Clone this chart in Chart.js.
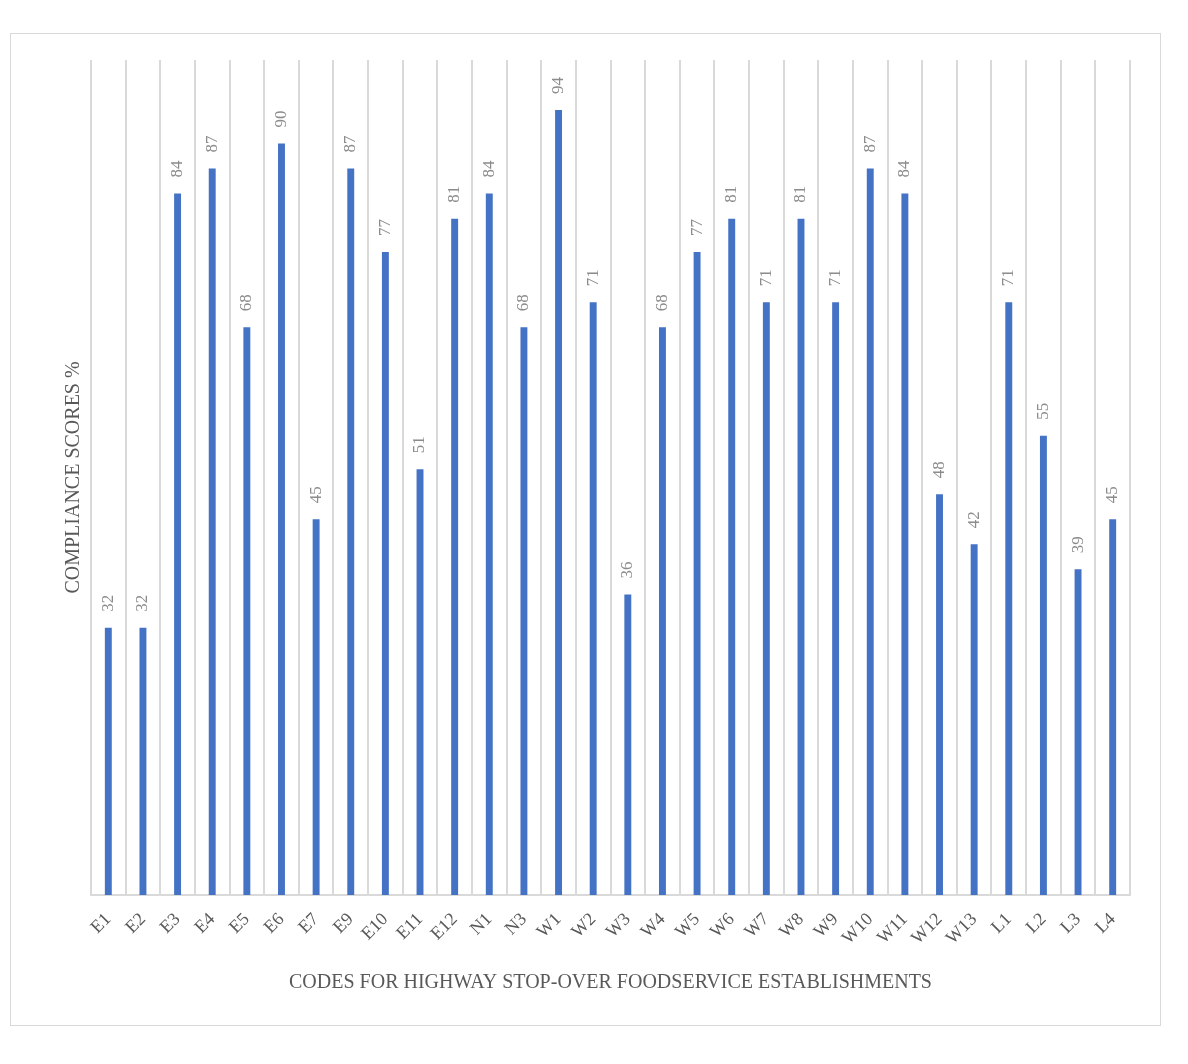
<!DOCTYPE html>
<html>
<head>
<meta charset="utf-8">
<script src="https://cdn.jsdelivr.net/npm/chart.js@4"></script>
<style>
  body { margin: 0; background: #fff; }
  #box { position: absolute; left: 10px; top: 33px; width: 1151px; height: 993px; border: 1px solid #d9d9d9; box-sizing: border-box; }
  #wrap { position: absolute; left: 0; top: 0; right: 0; bottom: 0; }
</style>
</head>
<body>
<div id="box"><div id="wrap"><canvas id="scoreChart"></canvas></div></div>
<script>
    const codes = ['E1', 'E2', 'E3', 'E4', 'E5', 'E6', 'E7', 'E9', 'E10', 'E11', 'E12', 'N1', 'N3',
        'W1', 'W2', 'W3', 'W4', 'W5', 'W6', 'W7', 'W8', 'W9', 'W10', 'W11', 'W12', 'W13', 'L1', 'L2', 'L3', 'L4'];
    const scores = [32, 32, 84, 87, 68, 90, 45, 87, 77, 51, 81, 84, 68, 94, 71, 36, 68, 77, 81, 71, 81, 71, 87, 84, 48, 42, 71, 55, 39, 45];

    const serif = "'Liberation Serif', 'DejaVu Serif', serif";

    // value labels drawn upright above each bar
    const barLabels = {
        id: 'barLabels',
        afterDatasetsDraw(chart) {
            const ctx = chart.ctx;
            const meta = chart.getDatasetMeta(0);
            ctx.save();
            ctx.fillStyle = '#8c8c8c';
            ctx.font = '17px ' + serif;
            ctx.textAlign = 'left';
            ctx.textBaseline = 'middle';
            meta.data.forEach((bar, i) => {
                ctx.save();
                ctx.translate(bar.x, bar.y - 16);
                ctx.rotate(-Math.PI / 2);
                ctx.fillText(String(scores[i]), 0, 0);
                ctx.restore();
            });
            ctx.restore();
        }
    };

    const ctx = document.getElementById('scoreChart').getContext('2d');
    new Chart(ctx, {
        type: 'bar',
        data: {
            labels: codes,
            datasets: [{
                data: scores,
                backgroundColor: '#4472c4',
                barPercentage: 0.2,
                categoryPercentage: 1
            }]
        },
        options: {
            responsive: true,
            maintainAspectRatio: false,
            animation: false,
            layout: { padding: { top: 26, right: 30, left: 47, bottom: 26 } },
            plugins: {
                legend: { display: false },
                tooltip: { enabled: false }
            },
            scales: {
                x: {
                    grid: { color: '#d9d9d9', lineWidth: 2, drawTicks: false },
                    border: { color: '#d9d9d9', width: 2 },
                    ticks: {
                        color: '#595959',
                        font: { family: serif, size: 18 },
                        autoSkip: false,
                        maxRotation: 45,
                        minRotation: 45,
                        padding: 14
                    },
                    title: {
                        display: true,
                        text: 'CODES FOR HIGHWAY STOP-OVER FOODSERVICE ESTABLISHMENTS',
                        color: '#595959',
                        font: { family: serif, size: 20 },
                        padding: { top: 8 }
                    }
                },
                y: {
                    min: 0,
                    max: 100,
                    grid: { display: false, drawTicks: false },
                    border: { display: false },
                    ticks: { display: false },
                    title: {
                        display: true,
                        text: 'COMPLIANCE SCORES %',
                        color: '#595959',
                        font: { family: serif, size: 20 },
                        padding: { top: 4, bottom: 5 }
                    }
                }
            }
        },
        plugins: [barLabels]
    });
</script>
</body>
</html>
